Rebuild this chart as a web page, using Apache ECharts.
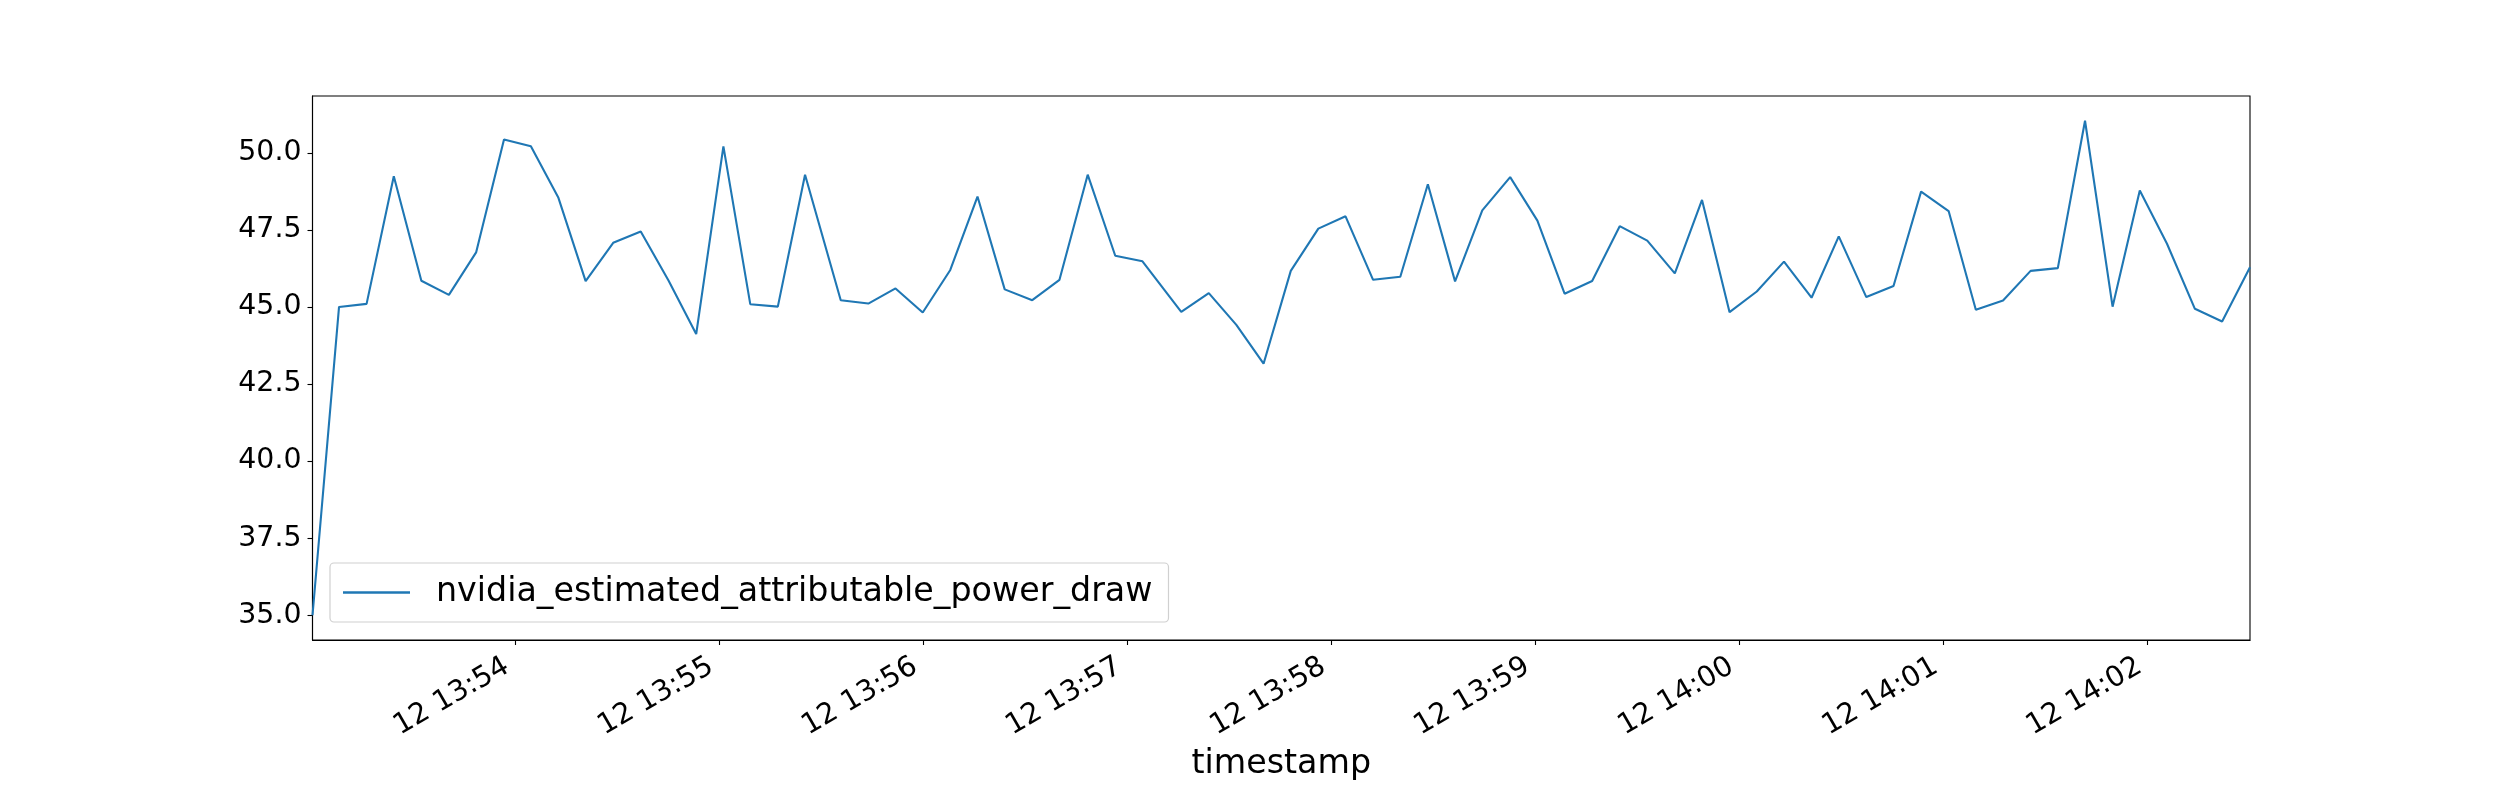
<!DOCTYPE html>
<html>
<head>
<meta charset="utf-8">
<script src="https://cdn.jsdelivr.net/npm/echarts@6/dist/echarts.min.js"></script>
<style>
  html, body { margin: 0; padding: 0; background: #ffffff; }
  #chart { width: 2500px; height: 800px; }
</style>
</head>
<body>
<div id="chart"></div>
<script>
// ---- data ----
const DAY = '2024-03-12';
const seriesName = 'nvidia_estimated_attributable_power_draw';
const xAxisName = 'timestamp';
const times = [
  '13:53:00.500','13:53:08.300','13:53:16.400','13:53:24.400','13:53:32.500','13:53:40.600',
  '13:53:48.600','13:53:56.800','13:54:04.700','13:54:12.800','13:54:20.800','13:54:28.900',
  '13:54:37.000','13:54:45.200','13:54:53.300','13:55:01.300','13:55:09.200','13:55:17.300',
  '13:55:25.300','13:55:35.800','13:55:43.900','13:55:51.900','13:55:59.900','13:56:08.000',
  '13:56:16.000','13:56:24.000','13:56:32.100','13:56:40.100','13:56:48.400','13:56:56.500',
  '13:57:04.500','13:57:15.900','13:57:24.000','13:57:32.100','13:57:40.100','13:57:48.100',
  '13:57:56.200','13:58:04.200','13:58:12.300','13:58:20.300','13:58:28.400','13:58:36.400',
  '13:58:44.400','13:58:52.600','13:59:00.600','13:59:08.600','13:59:16.700','13:59:24.800',
  '13:59:32.900','13:59:41.000','13:59:49.000','13:59:57.100','14:00:05.100','14:00:13.100',
  '14:00:21.200','14:00:29.200','14:00:37.300','14:00:45.300','14:00:53.400','14:01:01.500',
  '14:01:09.500','14:01:17.500','14:01:25.600','14:01:33.600','14:01:41.600','14:01:49.700',
  '14:01:57.700','14:02:05.700','14:02:13.900','14:02:21.900','14:02:30.100'
];
const powerDraw = [
  35.00, 45.00, 45.10, 49.24, 45.85, 45.39,
  46.77, 50.43, 50.21, 48.54, 45.84, 47.08,
  47.45, 45.85, 44.12, 50.21, 45.09, 45.01,
  49.29, 45.22, 45.11, 45.60, 44.82, 46.20,
  48.58, 45.57, 45.22, 45.88, 49.29, 46.66,
  46.48, 44.84, 45.45, 44.42, 43.16, 46.17,
  47.54, 47.94, 45.88, 45.98, 48.98, 45.83,
  48.13, 49.21, 47.80, 45.43, 45.84, 47.62,
  47.15, 46.09, 48.47, 44.83, 45.50, 46.47,
  45.30, 47.29, 45.32, 45.68, 48.74, 48.11,
  44.91, 45.21, 46.17, 46.26, 51.04, 45.01,
  48.78, 47.05, 44.94, 44.53, 46.29
];
const yTickStep = 2.5;

// ---- chart ----
const FONT = 'DejaVu Sans';
const pad2 = n => String(n).padStart(2, '0');
const points = times.map((t, i) => [DAY + ' ' + t, powerDraw[i]]);

const chart = echarts.init(document.getElementById('chart'), null, { renderer: 'canvas' });
chart.setOption({
  animation: false,
  backgroundColor: '#ffffff',
  textStyle: { fontFamily: FONT },
  grid: {
    left: 312.5, right: 250, top: 96, bottom: 160,
    show: true, borderColor: '#000000', borderWidth: 1.1, backgroundColor: 'transparent'
  },
  legend: {
    show: true,
    data: [seriesName],
    left: 330, top: 563,
    orient: 'vertical',
    icon: 'rect',
    itemWidth: 67, itemHeight: 2.5,
    padding: [13, 16, 13, 13],
    backgroundColor: '#ffffff',
    borderColor: '#d0d0d0', borderWidth: 1.2, borderRadius: 4,
    textStyle: { fontFamily: FONT, fontSize: 33.3, color: '#000000', padding: [0, 0, 0, 21] }
  },
  xAxis: {
    type: 'time',
    min: 'dataMin', max: 'dataMax',
    minInterval: 60000, maxInterval: 60000,
    name: xAxisName,
    nameLocation: 'middle',
    nameGap: 108,
    nameTextStyle: { fontFamily: FONT, fontSize: 33.3, color: '#000000' },
    axisLine: { show: true, lineStyle: { color: '#000000', width: 1.1 } },
    axisTick: { show: true, length: 5, inside: false, lineStyle: { color: '#000000', width: 1.1 } },
    splitLine: { show: false },
    minorTick: { show: false },
    axisLabel: {
      show: true,
      rotate: 30,
      margin: 20,
      padding: [0, 9, 0, 0],
      fontFamily: FONT, fontSize: 28.6, color: '#000000',
      showMinLabel: false, showMaxLabel: false,
      hideOverlap: false,
      formatter: function (value) {
        const d = new Date(value);
        return d.getDate() + ' ' + pad2(d.getHours()) + ':' + pad2(d.getMinutes());
      }
    }
  },
  yAxis: {
    type: 'value',
    scale: true,
    min: v => v.min - 0.05 * (v.max - v.min),
    max: v => v.max + 0.05 * (v.max - v.min),
    minInterval: yTickStep, maxInterval: yTickStep,
    axisLine: { show: true, lineStyle: { color: '#000000', width: 1.1 } },
    axisTick: { show: true, length: 5, inside: false, lineStyle: { color: '#000000', width: 1.1 } },
    splitLine: { show: false },
    axisLabel: {
      show: true,
      margin: 11,
      fontFamily: FONT, fontSize: 28.4, color: '#000000',
      showMinLabel: false, showMaxLabel: false,
      formatter: v => v.toFixed(1)
    }
  },
  series: [{
    name: seriesName,
    type: 'line',
    data: points,
    showSymbol: false,
    symbol: 'none',
    lineStyle: { color: '#1f77b4', width: 2.1 },
    itemStyle: { color: '#1f77b4' },
    emphasis: { disabled: true }
  }]
});
</script>
</body>
</html>
